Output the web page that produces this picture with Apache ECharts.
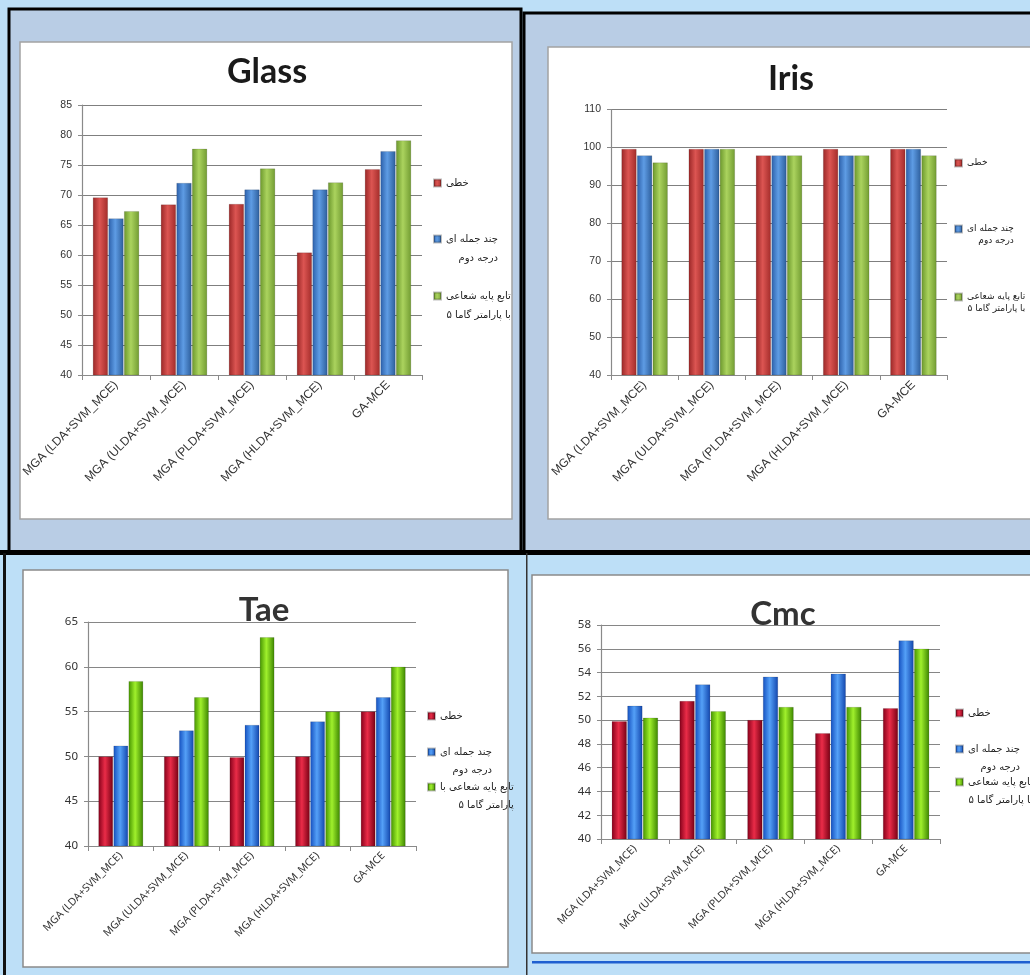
<!DOCTYPE html>
<html><head><meta charset="utf-8">
<script src="https://cdn.jsdelivr.net/npm/echarts@6/dist/echarts.min.js"></script>
<style>html,body{margin:0;padding:0;background:#bddff7}#c{width:1030px;height:975px}</style>
</head><body><div id="c"></div>
<script>
// ---------------- data ----------------
const categories = ['MGA (LDA+SVM_MCE)', 'MGA (ULDA+SVM_MCE)', 'MGA (PLDA+SVM_MCE)', 'MGA (HLDA+SVM_MCE)', 'GA-MCE'];
const seriesNames = ['خطی', 'چند جمله ای درجه دوم', 'تابع پایه شعاعی با پارامتر گاما ۵'];

const glassLinear = [69.6, 68.4, 68.5, 60.4, 74.3];
const glassPoly   = [66.1, 72.0, 70.9, 70.9, 77.3];
const glassRbf    = [67.3, 77.7, 74.4, 72.1, 79.1];

const irisLinear = [99.6, 99.6, 97.9, 99.6, 99.6];
const irisPoly   = [97.9, 99.6, 97.9, 97.9, 99.6];
const irisRbf    = [96.0, 99.6, 97.9, 97.9, 97.9];

const taeLinear = [50.0, 50.0, 49.9, 50.0, 55.0];
const taePoly   = [51.2, 52.9, 53.5, 53.9, 56.6];
const taeRbf    = [58.4, 56.6, 63.3, 55.0, 60.0];

const cmcLinear = [49.9, 51.6, 50.0, 48.9, 51.0];
const cmcPoly   = [51.2, 53.0, 53.65, 53.9, 56.7];
const cmcRbf    = [50.2, 50.75, 51.1, 51.1, 56.0];

// y-axis ticks: [min, max, interval]
const glassTicks = [40, 85, 5];
const irisTicks  = [40, 110, 10];
const taeTicks   = [40, 65, 5];
const cmcTicks   = [40, 58, 2];

const titles = ['Glass', 'Iris', 'Tae', 'Cmc'];

// legend label lines
const legendLinesGlass = [['خطی'], ['چند جمله ای', 'درجه دوم'], ['تابع پایه شعاعی', 'با پارامتر گاما ۵']];
const legendLinesIris  = [['خطی'], ['چند جمله ای', 'درجه دوم'], ['تابع پایه شعاعی', 'با پارامتر گاما ۵']];
const legendLinesTae   = [['خطی'], ['چند جمله ای', 'درجه دوم'], ['تابع پایه شعاعی با', 'پارامتر گاما ۵']];
const legendLinesCmc   = [['خطی'], ['چند جمله ای', 'درجه دوم'], ['تابع پایه شعاعی', 'با پارامتر گاما ۵']];

// ---------------- styling / layout ----------------
function cyl(c) {
  return new echarts.graphic.LinearGradient(0, 0, 1, 0, [
    {offset: 0, color: c[0]}, {offset: 0.45, color: c[1]}, {offset: 1, color: c[2]}
  ]);
}
const upperColors = [['#9a2727', '#dc5552', '#a32c2a'], ['#2c60aa', '#5e9ce4', '#2d5e9c'], ['#6b972c', '#abd35e', '#729c32']];
const lowerColors = [['#85001a', '#ea2c48', '#780014'], ['#1450c0', '#54a0f7', '#1246ae'], ['#459400', '#a0f02c', '#3c8500']];

const panels = [
  {data: [glassLinear, glassPoly, glassRbf], ticks: glassTicks, lines: legendLinesGlass, colors: upperColors,
   grid: {left: 82, top: 105, width: 340, height: 270}, title: [267, 72, 34, '#1a1a1a'],
   leg: {x: 433, ys: [183, 239, 296], lh: 19.5, fs: 10}, xfs: 12, xff: 'Liberation Sans', yfs: 10.5, yff: 'Liberation Sans', bw: 15, gridColor: '#7f7f7f'},
  {data: [irisLinear, irisPoly, irisRbf], ticks: irisTicks, lines: legendLinesIris, colors: upperColors,
   grid: {left: 611, top: 109.5, width: 336, height: 265.5}, title: [791, 79, 34, '#1a1a1a'],
   leg: {x: 954, ys: [163, 229, 297], lh: 11.5, fs: 9}, xfs: 12, xff: 'Liberation Sans', yfs: 10.5, yff: 'Liberation Sans', bw: 15, gridColor: '#7f7f7f'},
  {data: [taeLinear, taePoly, taeRbf], ticks: taeTicks, lines: legendLinesTae, colors: lowerColors,
   grid: {left: 88, top: 622, width: 328, height: 224}, title: [264, 610, 33, '#333333'],
   leg: {x: 427, ys: [716, 752, 787], lh: 18, fs: 10}, xfs: 10.5, xff: 'Noto Sans', yfs: 11.5, yff: 'Noto Sans', bw: 14.5, gridColor: '#868686'},
  {data: [cmcLinear, cmcPoly, cmcRbf], ticks: cmcTicks, lines: legendLinesCmc, colors: lowerColors,
   grid: {left: 601, top: 625, width: 339, height: 214}, title: [783, 614, 33, '#333333'],
   leg: {x: 955, ys: [713, 749, 782], lh: 18, fs: 10}, xfs: 10.5, xff: 'Noto Sans', yfs: 11.5, yff: 'Noto Sans', bw: 15, gridColor: '#868686'}
];

const grid = [], xAxis = [], yAxis = [], series = [], legend = [], title = [];
panels.forEach((p, i) => {
  grid.push(Object.assign({containLabel: false}, p.grid));
  xAxis.push({
    type: 'category', gridIndex: i, data: categories, boundaryGap: true,
    axisLine: {lineStyle: {color: '#8a8a8a', width: 1.2}},
    axisTick: {show: true, length: 5, alignWithLabel: false, lineStyle: {color: '#8a8a8a'}},
    axisLabel: {rotate: 45, interval: 0, margin: 8, fontSize: p.xfs, fontFamily: p.xff, color: '#333'}
  });
  yAxis.push({
    type: 'value', gridIndex: i, min: p.ticks[0], max: p.ticks[1], interval: p.ticks[2],
    axisLine: {show: true, lineStyle: {color: '#8a8a8a', width: 1.2}},
    axisTick: {show: true, length: 4, lineStyle: {color: '#8a8a8a'}},
    axisLabel: {margin: 10, fontSize: p.yfs, fontFamily: p.yff, color: '#333'},
    splitLine: {show: true, lineStyle: {color: p.gridColor, width: 1.2}}
  });
  p.data.forEach((d, k) => {
    series.push({
      type: 'bar', name: seriesNames[k], xAxisIndex: i, yAxisIndex: i, data: d,
      barWidth: p.bw, barGap: '4%', animation: false,
      itemStyle: {color: cyl(p.colors[k]), borderColor: 'rgba(0,0,0,0.25)', borderWidth: 0.5}
    });
    const lines = p.lines[k];
    const lh = p.leg.lh;
    const H = lines.length === 1 ? lh : 3 * lh;
    legend.push({
      data: [{name: seriesNames[k], itemStyle: {color: cyl(p.colors[k])}}],
      orient: 'vertical', left: p.leg.x, top: p.leg.ys[k] - H / 2, padding: 0,
      itemWidth: 7, itemHeight: 7, icon: 'rect', selectedMode: false,
      formatter: () => lines.length === 1 ? '{r|' + lines[0] + '}' : '{e|\u00a0}\n{r|' + lines[0] + '}\n{r|' + lines[1] + '}',
      textStyle: {
        fontFamily: 'DejaVu Sans', fontSize: p.leg.fs, color: '#222', lineHeight: lh,
        rich: {e: {fontSize: p.leg.fs, lineHeight: lh}, r: {align: 'right', fontSize: p.leg.fs, lineHeight: lh, fontFamily: 'DejaVu Sans', color: '#222'}}
      }
    });
  });
  title.push({
    text: titles[i], left: p.title[0], top: p.title[1] - p.title[2] / 2, textAlign: 'center', padding: 0,
    textStyle: {fontFamily: 'Lato', fontWeight: 'bold', fontSize: p.title[2], lineHeight: p.title[2], color: p.title[3]}
  });
});

const bg = [
  // Glass panel
  {type: 'rect', z: -10, shape: {x: 9, y: 9, width: 512, height: 543}, style: {fill: '#b9cde5', stroke: '#000', lineWidth: 3}},
  {type: 'rect', z: -9, shape: {x: 20, y: 42, width: 492, height: 477}, style: {fill: '#fff', stroke: '#a3a3a3', lineWidth: 1.5}},
  // Iris panel
  {type: 'rect', z: -10, shape: {x: 524, y: 13, width: 520, height: 539}, style: {fill: '#b9cde5', stroke: '#000', lineWidth: 3}},
  {type: 'rect', z: -9, shape: {x: 548, y: 47, width: 500, height: 472}, style: {fill: '#fff', stroke: '#a3a3a3', lineWidth: 1.5}},
  // bottom panels
  {type: 'rect', z: -10, shape: {x: 0, y: 550, width: 1030, height: 5}, style: {fill: '#000'}},
  {type: 'rect', z: -10, shape: {x: 3, y: 553, width: 3, height: 422}, style: {fill: '#111'}},
  {type: 'rect', z: -10, shape: {x: 526, y: 553, width: 1.5, height: 422}, style: {fill: '#333'}},
  {type: 'rect', z: -9, shape: {x: 23, y: 570, width: 485, height: 397}, style: {fill: '#fff', stroke: '#8a8a8a', lineWidth: 1.5}},
  {type: 'rect', z: -9, shape: {x: 532, y: 575, width: 510, height: 378}, style: {fill: '#fff', stroke: '#8a8a8a', lineWidth: 1.5}},
  {type: 'rect', z: -9, shape: {x: 532, y: 961, width: 500, height: 2.5}, style: {fill: '#1f5fd0'}}
];

const chart = echarts.init(document.getElementById('c'), null, {renderer: 'canvas'});
chart.setOption({
  backgroundColor: '#bddff7',
  animation: false,
  graphic: {elements: bg},
  title, grid, xAxis, yAxis, legend, series
});
</script></body></html>
